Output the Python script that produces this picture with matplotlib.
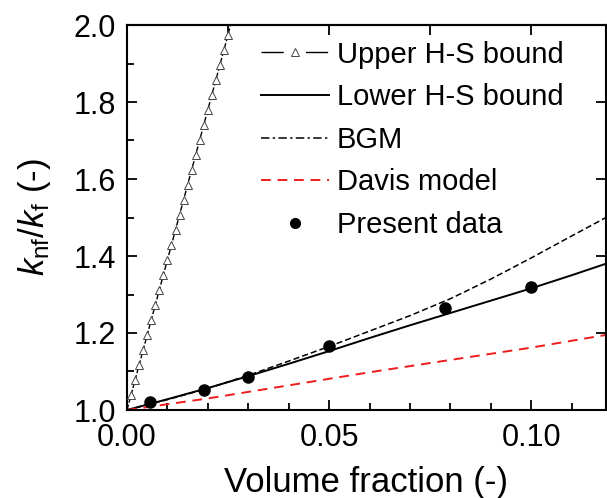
import numpy as np
import matplotlib.pyplot as plt
from matplotlib.ticker import MultipleLocator
from matplotlib.lines import Line2D

plt.rcParams['font.family'] = ['Liberation Sans', 'DejaVu Sans']
plt.rcParams['mathtext.fontset'] = 'custom'
plt.rcParams['mathtext.rm'] = 'Liberation Sans'
plt.rcParams['mathtext.it'] = 'Liberation Sans:italic'

# datos
x_upper = [0.0, 0.001, 0.002, 0.003, 0.004, 0.005, 0.006, 0.007, 0.008, 0.009,
           0.010, 0.011, 0.012, 0.013, 0.014, 0.015, 0.016, 0.017, 0.018, 0.019,
           0.020, 0.021, 0.022, 0.023, 0.024, 0.025, 0.0256]
y_upper = [1.000, 1.039, 1.078, 1.117, 1.156, 1.195, 1.234, 1.273, 1.312, 1.351,
           1.390, 1.429, 1.468, 1.507, 1.546, 1.585, 1.624, 1.663, 1.702, 1.741,
           1.780, 1.819, 1.858, 1.897, 1.936, 1.975, 2.0]

x_lower = [0.0, 0.01, 0.02, 0.03, 0.04, 0.05, 0.06, 0.07, 0.08, 0.09, 0.10, 0.11, 0.1185]
y_lower = [1.0, 1.028, 1.057, 1.088, 1.12, 1.153, 1.187, 1.22, 1.252, 1.284, 1.316, 1.35, 1.38]

x_bgm = [0.0, 0.01, 0.02, 0.03, 0.04, 0.05, 0.06, 0.07, 0.08, 0.09, 0.10, 0.11, 0.1185]
y_bgm = [1.0, 1.027, 1.056, 1.09, 1.127, 1.165, 1.205, 1.245, 1.289, 1.34, 1.395, 1.452, 1.50]

x_davis = [0.0, 0.02, 0.04, 0.06, 0.08, 0.10, 0.1185]
y_davis = [1.0, 1.03, 1.064, 1.098, 1.13, 1.162, 1.195]

x_data = [0.0057, 0.019, 0.030, 0.050, 0.0786, 0.100]
y_data = [1.021, 1.052, 1.087, 1.165, 1.265, 1.32]

fig = plt.figure(figsize=(6.07, 4.98), dpi=100)
ax = fig.add_axes([127/607, 1 - 410/498, 479/607, 385/498])

ax.plot(x_upper, y_upper, color='black', lw=1.0, dashes=(4, 1.5), zorder=2)
ax.plot(x_upper[1:-1], y_upper[1:-1], ls='none', marker='^', ms=5.5, mfc='white',
        mec='#444444', mew=0.7, zorder=3)
ax.plot(x_lower, y_lower, color='black', lw=1.4)
ax.plot(x_bgm, y_bgm, color='black', lw=1.1, dashes=(4, 2))
ax.plot(x_davis, y_davis, color='#ee1c1c', lw=1.4, dashes=(5, 3.5))
ax.plot(x_data, y_data, ls='none', marker='o', ms=8, color='black', zorder=4)

ax.set_xlim(0, 0.1185)
ax.set_ylim(1.0, 2.0)
ax.xaxis.set_major_locator(MultipleLocator(0.05))
ax.xaxis.set_minor_locator(MultipleLocator(0.01))
ax.yaxis.set_major_locator(MultipleLocator(0.2))
ax.yaxis.set_minor_locator(MultipleLocator(0.1))
ax.xaxis.set_major_formatter(plt.FormatStrFormatter('%.2f'))
ax.yaxis.set_major_formatter(plt.FormatStrFormatter('%.1f'))
ax.tick_params(which='both', direction='in', labelsize=22, width=1.3,
               right=True, top=False)
ax.tick_params(which='major', length=7, pad=8)
ax.tick_params(axis='x', which='major', pad=9)
ax.tick_params(which='minor', length=5, right=False)

top = ax.secondary_xaxis('top')
top.xaxis.set_major_locator(MultipleLocator(0.025))
top.tick_params(direction='in', length=7, width=1.3, labeltop=False)
top.spines['top'].set_linewidth(1.5)

for s in ax.spines.values():
    s.set_linewidth(1.5)

ax.set_xlabel('Volume fraction (-)', fontsize=25, labelpad=10)
ax.set_ylabel(r'$k_{\mathrm{nf}}/k_{\mathrm{f}}$ (-)', fontsize=25, labelpad=15)

handles = [
    Line2D([], [], color='black', lw=1.0, dashes=(16, 16), marker='^', ms=5.5,
           mfc='white', mec='#444444', mew=0.7),
    Line2D([], [], color='black', lw=1.4),
    Line2D([], [], color='black', lw=1.1, dashes=(5.5, 2.2, 1.5, 2.2)),
    Line2D([], [], color='#ee1c1c', lw=1.4, dashes=(5, 3.5)),
    Line2D([], [], ls='none', marker='o', ms=7, color='black'),
]
labels = ['Upper H-S bound', 'Lower H-S bound', 'BGM', 'Davis model', 'Present data']
ax.legend(handles, labels, loc='upper left', bbox_to_anchor=(0.244, 1.005), frameon=False,
          fontsize=21, handlelength=2.33, handletextpad=0.25, labelspacing=0.5,
          numpoints=1, borderaxespad=0.2)

fig.savefig('out.png', dpi=100)
